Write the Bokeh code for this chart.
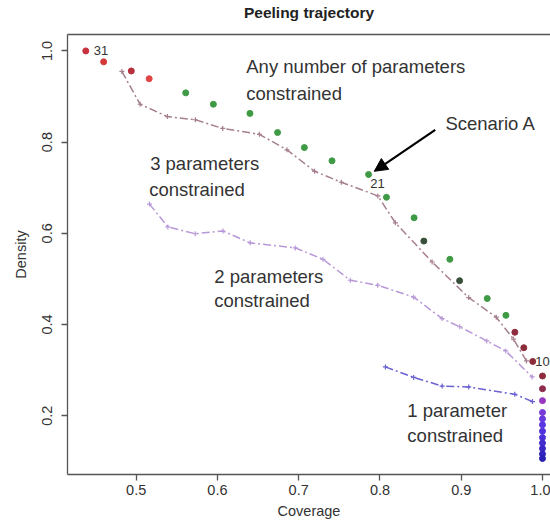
from bokeh.plotting import figure
from bokeh.models import (Range1d, LinearAxis, FixedTicker, Arrow, NormalHead,
                          ColumnDataSource, NumeralTickFormatter)
from bokeh.core.properties import value
from bokeh.embed import file_html
from bokeh.resources import INLINE

# Peeling trajectory: coverage / density of each box, from the last box (31) back to the full box
peel_coverage = [0.438, 0.460, 0.494, 0.516, 0.561, 0.595, 0.640, 0.674, 0.707, 0.741,
                 0.786, 0.808, 0.842, 0.854, 0.886, 0.898, 0.932, 0.955, 0.966, 0.977,
                 0.988, 1.0, 1.0, 1.0, 1.0, 1.0, 1.0, 1.0, 1.0, 1.0, 1.0, 1.0, 1.0]
peel_density = [1.000, 0.976, 0.956, 0.939, 0.908, 0.883, 0.863, 0.821, 0.788, 0.759,
                0.729, 0.679, 0.634, 0.583, 0.543, 0.496, 0.457, 0.420, 0.383, 0.349,
                0.319, 0.287, 0.259, 0.233, 0.207, 0.193, 0.180, 0.166, 0.152, 0.140,
                0.128, 0.116, 0.106]
peel_colors = ["#c8323e", "#d43838", "#b8303e", "#e04444",
               "#3f9a45", "#3f9a45", "#3f9a45", "#3f9a45", "#3f9a45", "#3f9a45",
               "#3f9a45", "#3f9a45", "#3f9a45", "#38503a", "#3f9a45", "#38503a",
               "#3f9a45", "#3f9a45",
               "#8c2c3c", "#8c2c3c", "#8c2c3c", "#8c2c3c", "#8c2c4c",
               "#9838c0", "#7a3ad8", "#6a38de", "#5c36e0", "#5232dc", "#4a30d6",
               "#422cce", "#3a28c6", "#3224be", "#2a20b4"]

# Box numbers written next to selected boxes (index into the trajectory)
box_label_index = [0, 10, 21]
box_label_text = ["31", "21", "10"]

# Best boxes when the number of constrained parameters is limited
three_coverage = [0.4824, 0.5049, 0.5385, 0.5729, 0.6065, 0.6517, 0.6856, 0.7196,
                  0.7525, 0.7974, 0.8190, 0.8642, 0.9092, 0.9431, 0.9643, 0.9803]
three_density = [0.955, 0.883, 0.856, 0.849, 0.830, 0.817, 0.783, 0.736,
                 0.712, 0.682, 0.623, 0.537, 0.459, 0.416, 0.368, 0.320]

two_coverage = [0.5164, 0.5390, 0.5727, 0.6068, 0.6404, 0.6958, 0.7299, 0.7635,
                0.7972, 0.8415, 0.8765, 0.8982, 0.9314, 0.9548, 0.9873]
two_density = [0.664, 0.614, 0.599, 0.605, 0.579, 0.568, 0.543, 0.497,
               0.486, 0.460, 0.413, 0.395, 0.364, 0.342, 0.285]

one_coverage = [0.8067, 0.8415, 0.8765, 0.9092, 0.9659, 0.9877]
one_density = [0.307, 0.284, 0.265, 0.263, 0.247, 0.231]

x_ticks = [0.5, 0.6, 0.7, 0.8, 0.9, 1.0]
y_ticks = [0.2, 0.4, 0.6, 0.8, 1.0]

# Annotation text and where it sits (coverage, density of the left/middle of each line)
note_text = ["Any number of parameters", "constrained", "Scenario A",
             "3 parameters", "constrained", "2 parameters", "constrained",
             "1 parameter", "constrained"]
note_x = [0.6355, 0.6355, 0.8805, 0.5172, 0.5160, 0.5961, 0.5961, 0.8337, 0.8337]
note_y = [0.9656, 0.9066, 0.8416, 0.7534, 0.6965, 0.5061, 0.4536, 0.2108, 0.1562]

FONT = "Liberation Sans"
AXIS_COL = "#555555"
TEXT_COL = "#333333"

p = figure(width=550, height=525,
           x_range=Range1d(0.4155, 1.00985), y_range=Range1d(0.071, 1.036),
           output_backend="svg", toolbar_location=None,
           min_border_left=67, min_border_right=0, min_border_top=33, min_border_bottom=51)
p.outline_line_color = None
p.xgrid.visible = False
p.ygrid.visible = False
p.background_fill_color = "white"
p.border_fill_color = "white"

for ax in (p.xaxis[0], p.yaxis[0]):
    ax.axis_line_color = AXIS_COL
    ax.axis_line_width = 1.3
    ax.major_tick_line_color = AXIS_COL
    ax.major_tick_line_width = 1.3
    ax.major_tick_in = 0
    ax.major_tick_out = 6
    ax.minor_tick_line_color = None
    ax.formatter = NumeralTickFormatter(format="0.0")
    ax.major_label_text_font = FONT
    ax.major_label_text_font_size = "14.5px"
    ax.major_label_text_color = TEXT_COL
    ax.axis_label_text_font = FONT
    ax.axis_label_text_font_size = "14.5px"
    ax.axis_label_text_font_style = "normal"
    ax.axis_label_text_color = TEXT_COL

p.xaxis[0].ticker = FixedTicker(ticks=x_ticks)
p.xaxis[0].axis_label = "Coverage"
p.xaxis[0].major_label_standoff = 4
p.xaxis[0].axis_label_standoff = 5

p.yaxis[0].ticker = FixedTicker(ticks=y_ticks)
p.yaxis[0].axis_label = "Density"
p.yaxis[0].major_label_orientation = "vertical"
p.yaxis[0].major_label_standoff = 9
p.yaxis[0].axis_label_standoff = 11

# top edge of the box, carrying the plot title
top = LinearAxis(ticker=FixedTicker(ticks=[]), axis_line_color=AXIS_COL, axis_line_width=1.3,
                 major_tick_line_color=None, minor_tick_line_color=None,
                 major_label_text_font_size="0px", major_label_standoff=0,
                 axis_label="Peeling trajectory", axis_label_standoff=14,
                 axis_label_text_font=FONT, axis_label_text_font_style="bold",
                 axis_label_text_font_size="15.5px", axis_label_text_color="#222222")
p.add_layout(top, "above")

DASH = "8 3 2 3"
for cov, dens, col in ((three_coverage, three_density, "#a67f90"),
                       (two_coverage, two_density, "#b898d8"),
                       (one_coverage, one_density, "#6a62d2")):
    p.line(cov, dens, line_color=col, line_width=1.5, line_dash=DASH)
    p.scatter(cov, dens, marker="cross", size=5, line_color=col, line_width=1.2)

peel = ColumnDataSource(dict(x=peel_coverage, y=peel_density, c=peel_colors))
p.scatter("x", "y", source=peel, size=6, fill_color="c", line_color="c")

# box numbers
lbl = ColumnDataSource(dict(
    x=[peel_coverage[i] for i in box_label_index],
    y=[peel_density[i] for i in box_label_index],
    t=box_label_text,
    xo=[8, 9, 0], yo=[0, 9, -15], al=["left", "center", "center"]))
p.text("x", "y", text="t", source=lbl, x_offset="xo", y_offset="yo", text_align="al",
       text_baseline="middle", text_font=value(FONT), text_font_size="13px",
       text_color=TEXT_COL)

notes = ColumnDataSource(dict(x=note_x, y=note_y, t=note_text))
p.text("x", "y", text="t", source=notes, text_align="left", text_baseline="middle",
       text_font=value(FONT), text_font_size="18.5px", text_color=TEXT_COL)

# arrow pointing at Scenario A (box 21)
sx, sy = peel_coverage[10], peel_density[10]
p.add_layout(Arrow(end=NormalHead(size=13, fill_color="black", line_color="black"),
                   x_start=sx + 0.082, y_start=sy + 0.098,
                   x_end=sx + 0.007, y_end=sy + 0.007,
                   line_color="black", line_width=2.2))

open("out.html", "w").write(file_html(p, INLINE))
